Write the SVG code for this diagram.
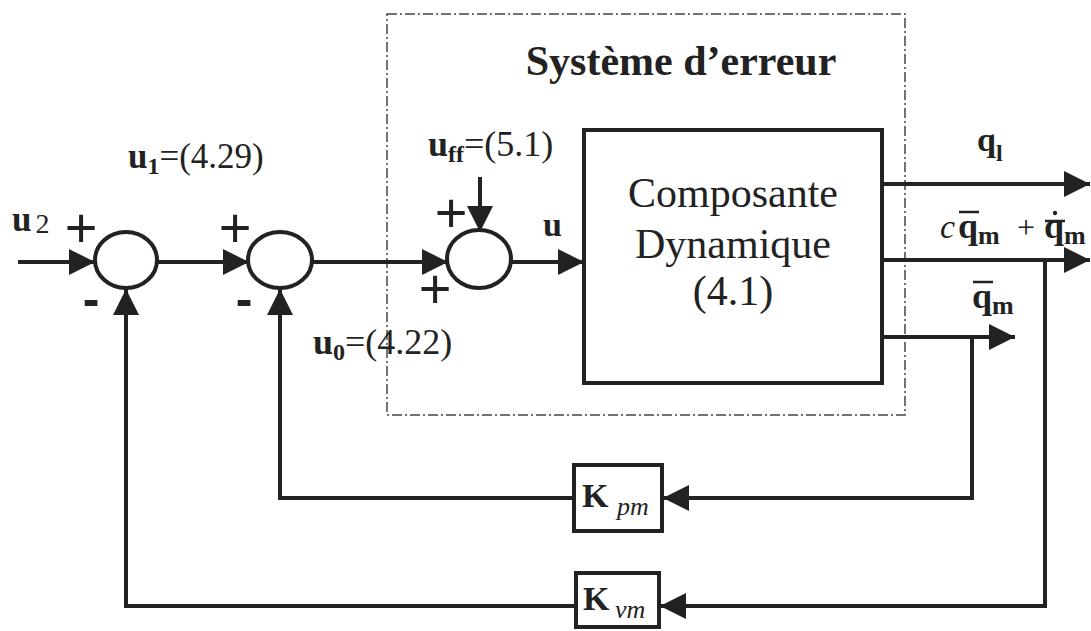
<svg xmlns="http://www.w3.org/2000/svg" width="1091" height="631" viewBox="0 0 1091 631">
<defs>
<marker id="ah" markerUnits="userSpaceOnUse" markerWidth="27" markerHeight="26" refX="26" refY="13" orient="auto">
<path d="M0,0 L26,13 L0,26 z" fill="#222"/>
</marker>
<style>
.arr{stroke:#222;stroke-width:4;fill:none;marker-end:url(#ah)}
.sum{stroke:#222;stroke-width:4;fill:#fff}
.box{stroke:#222;stroke-width:4;fill:#fff}
.t{font-family:"Liberation Serif",serif;fill:#222}
.pl{font-family:"Liberation Sans",sans-serif;font-size:56px;fill:#222;text-anchor:middle}
.mi{font-family:"Liberation Sans",sans-serif;font-weight:bold;font-size:50px;fill:#222;text-anchor:middle}
.b{font-weight:bold}
.i{font-style:italic}
.bar{stroke:#222;stroke-width:2.5}
</style>
</defs>
<rect width="1091" height="631" fill="#fff"/>
<g id="system-boundary">
<rect x="387" y="14" width="518" height="401" fill="none" stroke="#444" stroke-width="1.5" stroke-dasharray="10 3 2 3"/>
<text class="t b" x="681" y="75" font-size="42" text-anchor="middle">Système d’erreur</text>
</g>
<g id="connectors">
<line class="arr" x1="18" y1="262" x2="95" y2="262"/>
<line class="arr" x1="157" y1="262" x2="249" y2="262"/>
<line class="arr" x1="312" y1="262" x2="448" y2="262"/>
<line class="arr" x1="511" y1="262" x2="584" y2="262"/>
<line class="arr" x1="480" y1="177" x2="480" y2="232"/>
<line class="arr" x1="882" y1="184" x2="1090" y2="184"/>
<line class="arr" x1="882" y1="260" x2="1090" y2="260"/>
<line class="arr" x1="882" y1="337" x2="1015" y2="337"/>
<polyline class="arr" points="972,337 972,498 663,498"/>
<polyline class="arr" points="573,498 280,498 280,289"/>
<polyline class="arr" points="1045,260 1045,606 660,606"/>
<polyline class="arr" points="575,606 126,606 126,289"/>
</g>
<g id="sum1">
<ellipse class="sum" cx="126" cy="260" rx="31" ry="28"/>
<text class="pl" x="81" y="247">+</text>
<text class="mi" x="91" y="316">-</text>
</g>
<g id="sum2">
<ellipse class="sum" cx="280" cy="260" rx="32" ry="28"/>
<text class="pl" x="235" y="247">+</text>
<text class="mi" x="244" y="316">-</text>
</g>
<g id="sum3">
<ellipse class="sum" cx="479" cy="259" rx="32" ry="29"/>
<text class="pl" x="451" y="232">+</text>
<text class="pl" x="435" y="308">+</text>
</g>
<g id="dynamic">
<rect class="box" x="584" y="130" width="298" height="253"/>
<text class="t" x="733" y="207" font-size="42" text-anchor="middle">Composante</text>
<text class="t" x="733" y="258" font-size="42" text-anchor="middle">Dynamique</text>
<text class="t" x="733" y="305" font-size="42" text-anchor="middle">(4.1)</text>
</g>
<g id="kpm">
<rect class="box" x="574" y="465" width="88" height="66"/>
<text class="t b" x="582" y="507" font-size="34">K</text>
<text class="t i" x="617" y="515" font-size="26">pm</text>
</g>
<g id="kvm">
<rect class="box" x="576" y="573" width="83" height="54"/>
<text class="t b" x="583" y="610" font-size="34">K</text>
<text class="t i" x="615" y="618" font-size="26">vm</text>
</g>
<g id="labels">
<text class="t" x="128" y="168" font-size="35"><tspan class="b">u</tspan><tspan class="b" font-size="24" dy="6">1</tspan><tspan dy="-6">=(4.29)</tspan></text>
<text class="t" x="12" y="231" font-size="35"><tspan class="b">u</tspan><tspan font-size="28" dx="4" dy="2">2</tspan></text>
<text class="t" x="428" y="156" font-size="36"><tspan class="b">u</tspan><tspan class="b" font-size="24" dy="6">ff</tspan><tspan dy="-6">=(5.1)</tspan></text>
<text class="t b" x="543" y="236" font-size="34">u</text>
<text class="t" x="313" y="354" font-size="36"><tspan class="b">u</tspan><tspan class="b" font-size="24" dy="6">0</tspan><tspan dy="-6">=(4.22)</tspan></text>
<text class="t b" x="977" y="151" font-size="34">q<tspan font-size="24" dy="10">l</tspan></text>
<text class="t i" x="940" y="238" font-size="34">c</text>
<text class="t b" x="958" y="238" font-size="36">q<tspan font-size="26" dy="6">m</tspan></text>
<text class="t" x="1017" y="238" font-size="32">+</text>
<text class="t b" x="1044" y="238" font-size="36">q<tspan font-size="26" dy="6">m</tspan></text>
<line class="bar" x1="959" y1="212" x2="979" y2="212"/>
<line class="bar" x1="1045" y1="221" x2="1065" y2="221"/>
<circle cx="1055" cy="213" r="2.2" fill="#222"/>
<text class="t b" x="972" y="308" font-size="36">q<tspan font-size="26" dy="6">m</tspan></text>
<line class="bar" x1="973" y1="282" x2="993" y2="282"/>
</g>
</svg>
